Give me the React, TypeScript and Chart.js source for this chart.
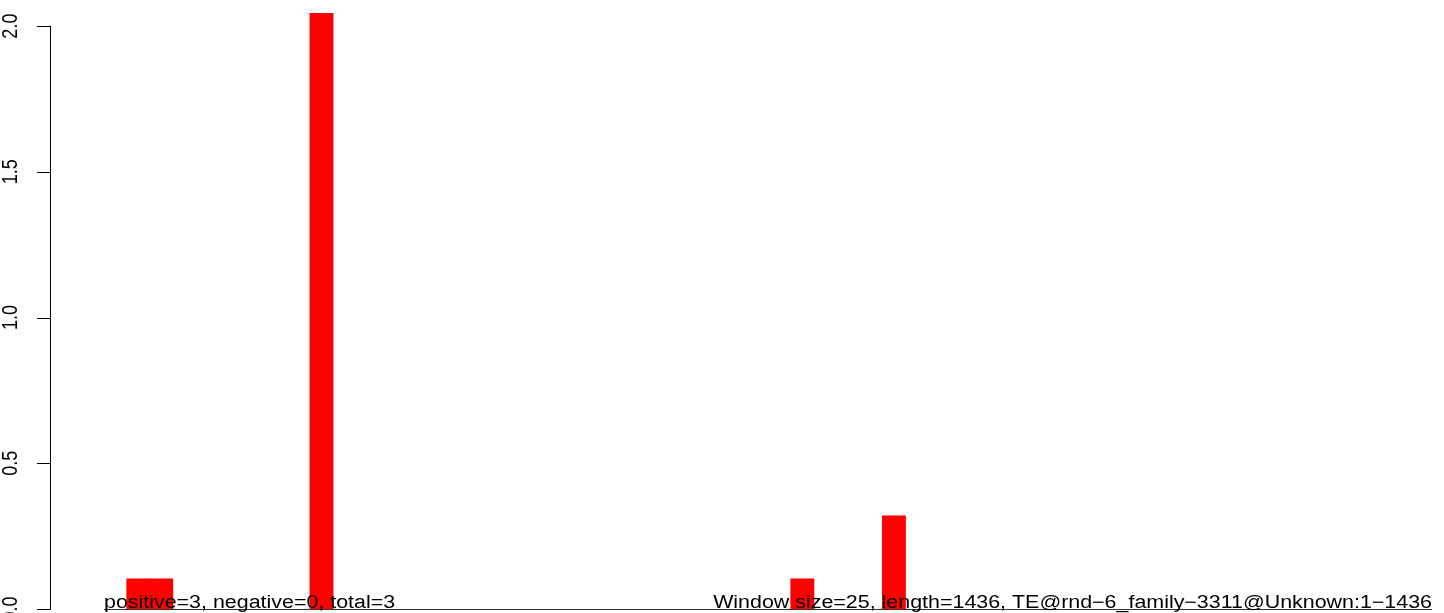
import React, { useEffect, useRef } from "react";
import { Chart, registerables } from "chart.js";

Chart.register(...registerables);

// Window values (58 windows of size 25 over length 1436)
const windowValues = [
  0, 0.103, 0.103, 0, 0, 0, 0, 0, 0, 2.045,
  0, 0, 0, 0, 0, 0, 0, 0, 0, 0,
  0, 0, 0, 0, 0, 0, 0, 0, 0, 0,
  0.103, 0, 0, 0, 0.319, 0, 0, 0, 0, 0,
  0, 0, 0, 0, 0, 0, 0, 0, 0, 0,
  0, 0, 0, 0, 0, 0, 0, 0,
];
const yTickValues = [0, 0.5, 1.0, 1.5, 2.0];
const yTickLabels = ["0.0", "0.5", "1.0", "1.5", "2.0"];
const leftText = "positive=3, negative=0, total=3";
const rightText = "Window size=25, length=1436, TE@rnd\u22126_family\u22123311@Unknown:1\u22121436";

const FONT = '18px "Liberation Sans", Arial, Helvetica, sans-serif';
const STRETCH = 1.19;

const decorPlugin = {
  id: "decor",
  afterDatasetsDraw(chart: any) {
    const ctx = chart.ctx;
    const xs = chart.scales.x;
    const ys = chart.scales.y;
    const left = chart.chartArea.left;
    ctx.save();
    ctx.strokeStyle = "#000";
    ctx.fillStyle = "#000";
    ctx.lineWidth = 1;
    // y axis line
    const axX = left - 0.5;
    const y0 = ys.getPixelForValue(yTickValues[0]);
    const y1 = ys.getPixelForValue(yTickValues[yTickValues.length - 1]);
    ctx.beginPath();
    ctx.moveTo(axX, Math.round(y0) + 0.5);
    ctx.lineTo(axX, Math.round(y1) - 0.5);
    ctx.stroke();
    // ticks + labels
    ctx.font = FONT;
    yTickValues.forEach((v, i) => {
      const py = Math.round(ys.getPixelForValue(v)) + 0.5;
      ctx.beginPath();
      ctx.moveTo(axX - 13.5, py);
      ctx.lineTo(axX, py);
      ctx.stroke();
      ctx.save();
      ctx.translate(left - 39.5, ys.getPixelForValue(v));
      ctx.scale(STRETCH, 1);
      ctx.rotate(-Math.PI / 2);
      ctx.textAlign = "center";
      ctx.textBaseline = "middle";
      ctx.fillText(yTickLabels[i], 0, 0);
      ctx.restore();
    });
    // baseline
    const bx0 = xs.getPixelForValue(0);
    const bx1 = xs.getPixelForValue(windowValues.length);
    const by = Math.round(ys.getPixelForValue(0)) + 0.5;
    ctx.strokeStyle = "#333";
    ctx.beginPath();
    ctx.moveTo(bx0, by);
    ctx.lineTo(bx1, by);
    ctx.stroke();
    // bottom texts
    ctx.textBaseline = "alphabetic";
    ctx.save();
    ctx.translate(bx0, by - 1.5);
    ctx.scale(STRETCH, 1);
    ctx.textAlign = "left";
    ctx.fillText(leftText, 0, 0);
    ctx.restore();
    ctx.save();
    ctx.translate(bx1, by - 1.5);
    ctx.scale(STRETCH, 1);
    ctx.textAlign = "right";
    ctx.fillText(rightText, 0, 0);
    ctx.restore();
    ctx.restore();
  },
};

export default function App() {
  const ref = useRef<HTMLCanvasElement | null>(null);
  useEffect(() => {
    if (!ref.current) return;
    const data = windowValues.map((v, i) => ({ x: i + 0.5, y: v === 0 ? null : v }));
    const chart = new Chart(ref.current, {
      type: "bar",
      data: {
        datasets: [
          {
            data,
            backgroundColor: "#FF0000",
            borderWidth: 0,
            inflateAmount: 0.5,
            barPercentage: 1,
            categoryPercentage: 1,
          },
        ],
      },
      options: {
        responsive: false,
        animation: false,
        devicePixelRatio: 1,
        layout: { padding: { left: 51, right: 12, top: 13, bottom: 4 } },
        plugins: { legend: { display: false }, tooltip: { enabled: false } },
        scales: {
          x: { type: "linear", display: false, offset: false, min: -2.314, max: windowValues.length },
          y: { type: "linear", display: false, min: 0, max: 2.045 },
        },
      },
      plugins: [decorPlugin],
    });
    return () => chart.destroy();
  }, []);
  return (
    <div style={{ position: "fixed", left: 0, top: 0, width: 1444, height: 613, background: "#fff" }}>
      <canvas ref={ref} width={1444} height={613} style={{ display: "block" }} />
    </div>
  );
}
